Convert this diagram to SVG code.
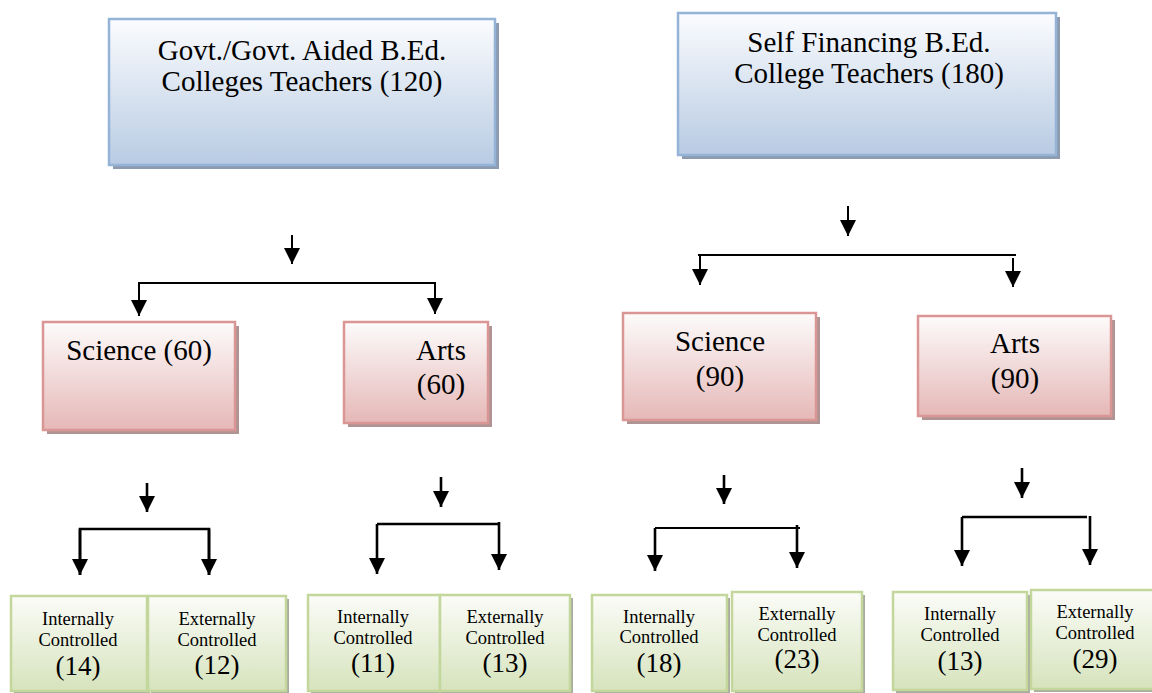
<svg xmlns="http://www.w3.org/2000/svg" width="1152" height="693" viewBox="0 0 1152 693">
<style>
.t{font-family:"Liberation Serif","Times New Roman",serif;fill:#000;text-anchor:middle}
.big{font-size:29px}
.sm{font-size:18.5px}
.num{font-size:27px}
.blue{fill:url(#gb);stroke:#95b3d7;stroke-width:2.5}
.pink{fill:url(#gp);stroke:#d99694;stroke-width:2.5}
.green{fill:url(#gg);stroke:#c3d69b;stroke-width:2.5}
.shb{fill:#8d9bb0}
.shp{fill:#b09494}
.shg{fill:#a9ab9f}
.c{stroke:#000;stroke-width:2;fill:none}
.c2{stroke:#000;stroke-width:2.6;fill:none}
.a{stroke:#000;stroke-width:2;fill:none;marker-end:url(#ah)}
.a2{stroke:#000;stroke-width:2.6;fill:none;marker-end:url(#ah)}
</style>
<defs>
<linearGradient id="gb" x1="0" y1="0" x2="0" y2="1"><stop offset="0" stop-color="#fbfcfe"/><stop offset="1" stop-color="#b8cbe3"/></linearGradient>
<linearGradient id="gp" x1="0" y1="0" x2="0" y2="1"><stop offset="0" stop-color="#fdfbfb"/><stop offset="1" stop-color="#e5b8b7"/></linearGradient>
<linearGradient id="gg" x1="0" y1="0" x2="0" y2="1"><stop offset="0" stop-color="#fbfcf8"/><stop offset="1" stop-color="#d6e3bc"/></linearGradient>
<marker id="ah" markerUnits="userSpaceOnUse" viewBox="0 0 16 16" markerWidth="16" markerHeight="16" refX="16" refY="8" orient="auto"><path d="M0,0 L16,8 L0,16 Z" fill="#000"/></marker>
</defs>

<g id="govt">
<rect class="shb" x="113" y="23" width="386" height="146"/>
<rect class="blue" x="109" y="19" width="386" height="146"/>
<text class="t big" x="302" y="60">Govt./Govt. Aided B.Ed.</text>
<text class="t big" x="302" y="91">Colleges Teachers (120)</text>
</g>
<g id="self">
<rect class="shb" x="682" y="17" width="378" height="142"/>
<rect class="blue" x="678" y="13" width="378" height="142"/>
<text class="t big" x="869" y="52">Self Financing B.Ed.</text>
<text class="t big" x="869" y="83">College Teachers (180)</text>
</g>

<g id="sci60">
<rect class="shp" x="47" y="326" width="192" height="108"/>
<rect class="pink" x="43" y="322" width="192" height="108"/>
<text class="t big" x="139" y="360">Science (60)</text>
</g>
<g id="arts60">
<rect class="shp" x="348" y="326" width="144" height="101"/>
<rect class="pink" x="344" y="322" width="144" height="101"/>
<text class="t big" x="441" y="360">Arts</text>
<text class="t big" x="441" y="394">(60)</text>
</g>
<g id="sci90">
<rect class="shp" x="627" y="317" width="193" height="107"/>
<rect class="pink" x="623" y="313" width="193" height="107"/>
<text class="t big" x="720" y="351">Science</text>
<text class="t big" x="720" y="386">(90)</text>
</g>
<g id="arts90">
<rect class="shp" x="922" y="320" width="193" height="100"/>
<rect class="pink" x="918" y="316" width="193" height="100"/>
<text class="t big" x="1015" y="353">Arts</text>
<text class="t big" x="1015" y="388">(90)</text>
</g>

<g id="int14">
<rect class="shg" x="14" y="599" width="136" height="95"/>
<rect class="green" x="11" y="596" width="136" height="95"/>
<text class="t sm" x="78" y="625">Internally</text>
<text class="t sm" x="78" y="646">Controlled</text>
<text class="t num" x="78" y="675">(14)</text>
</g>
<g id="ext12">
<rect class="shg" x="151" y="599" width="138" height="95"/>
<rect class="green" x="148" y="596" width="138" height="95"/>
<text class="t sm" x="217" y="625">Externally</text>
<text class="t sm" x="217" y="646">Controlled</text>
<text class="t num" x="217" y="674">(12)</text>
</g>
<g id="int11">
<rect class="shg" x="311" y="598" width="132" height="96"/>
<rect class="green" x="308" y="595" width="132" height="96"/>
<text class="t sm" x="373" y="623">Internally</text>
<text class="t sm" x="373" y="644">Controlled</text>
<text class="t num" x="373" y="672">(11)</text>
</g>
<g id="ext13">
<rect class="shg" x="443" y="598" width="130" height="96"/>
<rect class="green" x="440" y="595" width="130" height="96"/>
<text class="t sm" x="505" y="623">Externally</text>
<text class="t sm" x="505" y="644">Controlled</text>
<text class="t num" x="505" y="672">(13)</text>
</g>
<g id="int18">
<rect class="shg" x="595" y="598" width="135" height="96"/>
<rect class="green" x="592" y="595" width="135" height="96"/>
<text class="t sm" x="659" y="623">Internally</text>
<text class="t sm" x="659" y="643">Controlled</text>
<text class="t num" x="659" y="672">(18)</text>
</g>
<g id="ext23">
<rect class="shg" x="735" y="595" width="130" height="99"/>
<rect class="green" x="732" y="592" width="130" height="99"/>
<text class="t sm" x="797" y="620">Externally</text>
<text class="t sm" x="797" y="641">Controlled</text>
<text class="t num" x="797" y="668">(23)</text>
</g>
<g id="int13">
<rect class="shg" x="896" y="595" width="134" height="98"/>
<rect class="green" x="893" y="592" width="134" height="98"/>
<text class="t sm" x="960" y="620">Internally</text>
<text class="t sm" x="960" y="641">Controlled</text>
<text class="t num" x="960" y="670">(13)</text>
</g>
<g id="ext29">
<rect class="shg" x="1034" y="593" width="124" height="99"/>
<rect class="green" x="1031" y="590" width="124" height="99"/>
<text class="t sm" x="1095" y="618">Externally</text>
<text class="t sm" x="1095" y="639">Controlled</text>
<text class="t num" x="1095" y="668">(29)</text>
</g>

<g id="connectors">
<path class="a" d="M292,235 V264"/>
<path class="c" d="M138,283 H436"/>
<path class="a" d="M139,283 V316"/>
<path class="a" d="M435,283 V314"/>

<path class="a" d="M848,206 V236"/>
<path class="c" d="M698,255 H1016"/>
<path class="a" d="M700,255 V285"/>
<path class="a" d="M1013,258 V287"/>

<path class="a2" d="M147,483 V512"/>
<path class="c2" d="M80,575 V529 H209 V575"/>
<path class="a2" d="M80,529 V575"/>
<path class="a2" d="M209,529 V575"/>

<path class="a2" d="M441,477 V507"/>
<path class="c2" d="M377,524 H499"/>
<path class="a2" d="M377,524 V574"/>
<path class="a2" d="M499,522 V570"/>

<path class="a2" d="M724,475 V504"/>
<path class="c" d="M655,528 H800"/>
<path class="a2" d="M655,528 V571"/>
<path class="a2" d="M797,525 V568"/>

<path class="a2" d="M1022,468 V498"/>
<path class="c2" d="M962,517 H1087"/>
<path class="a2" d="M962,517 V566"/>
<path class="a2" d="M1090,516 V565"/>
</g>
</svg>
